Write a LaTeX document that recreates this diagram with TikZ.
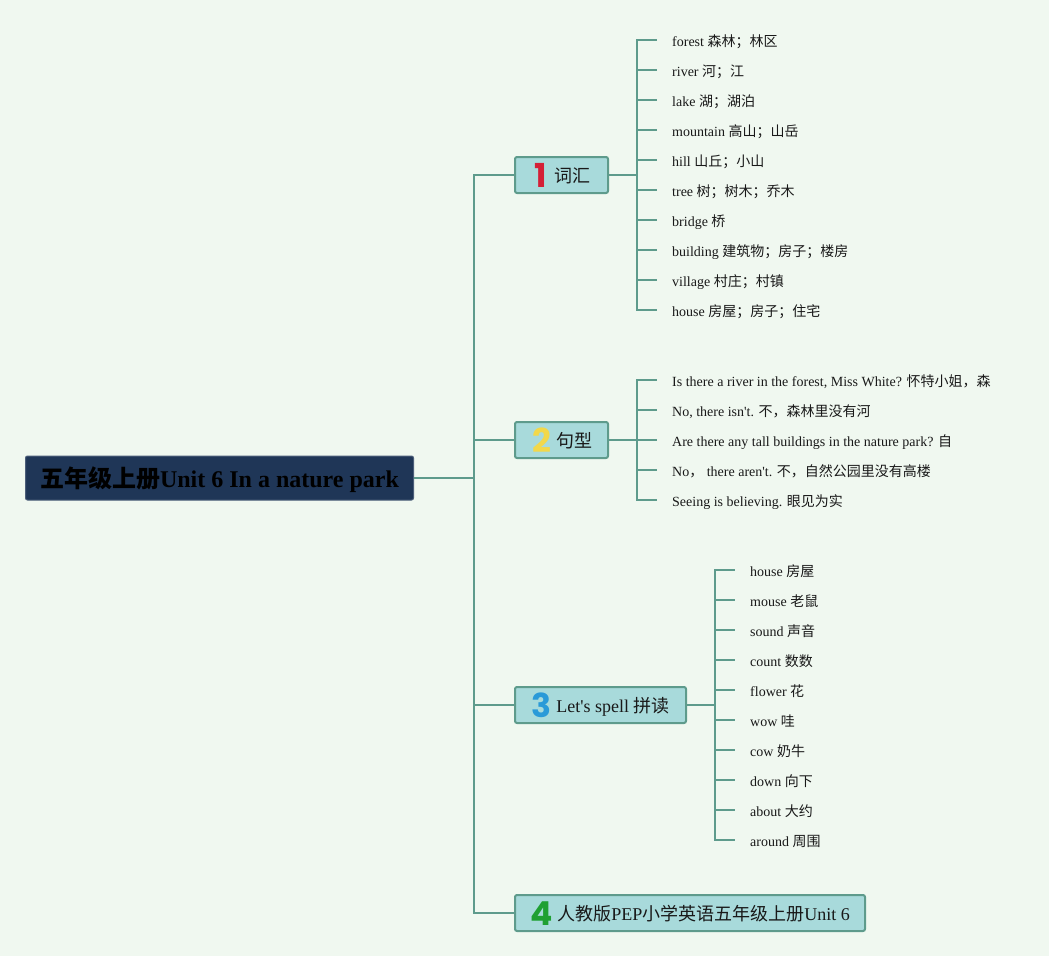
\documentclass[tikz,border=0pt]{standalone}
\usepackage{fontspec}
\setmainfont{Liberation Serif}
\newfontfamily\cjk{Noto Sans CJK SC}
\newfontfamily\numf{Poppins}
\definecolor{bgc}{HTML}{F0F8F0}
\definecolor{linec}{HTML}{5E9B8C}
\definecolor{nodefill}{HTML}{A8DADB}
\definecolor{rootfill}{HTML}{1F3657}
\definecolor{nred}{HTML}{D41F36}
\definecolor{nyellow}{HTML}{F2D84A}
\definecolor{nblue}{HTML}{2A9AD8}
\definecolor{ngreen}{HTML}{1FA032}
\newcommand{\num}[2]{\raisebox{-5pt}{\numf\bfseries\fontsize{33}{33}\selectfont\color{#1}#2}}
\begin{document}
\begin{tikzpicture}[x=1pt,y=-1pt,
  conn/.style={draw=linec,line width=2pt},
  rootbox/.style={fill=rootfill,draw=rootfill!80!white,line width=1pt,rounded corners=2pt,anchor=west,minimum height=44pt,inner sep=0pt,text height=21pt,text depth=3pt,font=\fontsize{24}{28}\selectfont\bfseries,text=black},
  branch/.style={fill=nodefill,draw=linec,line width=2pt,rounded corners=2pt,anchor=west,minimum height=36pt,inner xsep=0pt,inner ysep=0pt,text height=17pt,text depth=2pt,font=\fontsize{18}{22}\selectfont,text=black!90},
  leaf/.style={anchor=west,inner xsep=15pt,inner ysep=0pt,text height=14pt,text depth=2pt,font=\fontsize{14}{17}\selectfont,text=black!90}]
\fill[bgc] (0,0) rectangle (1049,956);
\useasboundingbox (0,0) rectangle (1049,956);

\node[rootbox,minimum width=388pt] (root) at (25,478) {{\cjk\bfseries 五年级上册}Unit 6 In a nature park};

\node[branch,minimum width=93pt] (n1) at (514,175) {\hspace{2pt}\num{nred}{1}\hspace{7pt}{\cjk 词汇}};
\node[branch,minimum width=93pt] (n2) at (514,440) {\hspace{2pt}\num{nyellow}{2}\hspace{6pt}{\cjk 句型}};
\node[branch,minimum width=171pt] (n3) at (514,705) {\num{nblue}{3}\hspace{5pt}Let{\textquotesingle}s spell {\cjk 拼读}};
\node[branch,minimum width=350pt] (n4) at (514,913) {\num{ngreen}{4}\hspace{5pt}{\cjk 人教版}PEP{\cjk 小学英语五年级上册}Unit 6};

\coordinate (trunk) at (474,478);
\draw[conn] (root.east) -- (trunk);
\foreach \n in {n1,n2,n3,n4} \draw[conn] (trunk) |- (\n.west);

% leaves of 1
\coordinate (b1) at (637,175);
\draw[conn] (n1.east) -- (b1);
\foreach \i/\t [count=\k] in {
  forest/{森林；林区},
  river/{河；江},
  lake/{湖；湖泊},
  mountain/{高山；山岳},
  hill/{山丘；小山},
  tree/{树；树木；乔木},
  bridge/{桥},
  building/{建筑物；房子；楼房},
  village/{村庄；村镇},
  house/{房屋；房子；住宅}} {
  \node[leaf] (a\k) at (657,10+30*\k) {\i\ {\cjk \t}};
  \draw[conn] (b1) |- (a\k.west);
}

% leaves of 2
\coordinate (b2) at (637,440);
\draw[conn] (n2.east) -- (b2);
\node[leaf] (s1) at (657,380) {Is there a river in the forest, Miss White? {\cjk 怀特小姐，森}};
\node[leaf] (s2) at (657,410) {No, there isn{\textquotesingle}t. {\cjk 不，森林里没有河}};
\node[leaf] (s3) at (657,440) {Are there any tall buildings in the nature park? {\cjk 自}};
\node[leaf] (s4) at (657,470) {No{\cjk ，} there aren{\textquotesingle}t. {\cjk 不，自然公园里没有高楼}};
\node[leaf] (s5) at (657,500) {Seeing is believing. {\cjk 眼见为实}};
\foreach \k in {1,...,5} \draw[conn] (b2) |- (s\k.west);

% leaves of 3
\coordinate (b3) at (715,705);
\draw[conn] (n3.east) -- (b3);
\foreach \i/\t [count=\k] in {
  house/{房屋},
  mouse/{老鼠},
  sound/{声音},
  count/{数数},
  flower/{花},
  wow/{哇},
  cow/{奶牛},
  down/{向下},
  about/{大约},
  around/{周围}} {
  \node[leaf] (c\k) at (735,540+30*\k) {\i\ {\cjk \t}};
  \draw[conn] (b3) |- (c\k.west);
}
\end{tikzpicture}
\end{document}
